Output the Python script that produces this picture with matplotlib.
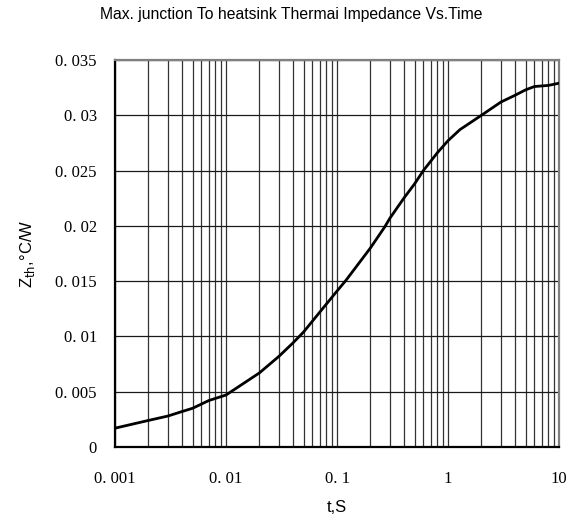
import numpy as np
import matplotlib
matplotlib.use('Agg')
import matplotlib.pyplot as plt
from matplotlib.ticker import FixedLocator, NullFormatter

# curve
t_s = [0.001, 0.002, 0.003, 0.004, 0.005, 0.007, 0.01, 0.02, 0.03, 0.04, 0.05,
       0.07, 0.1, 0.121, 0.2, 0.269, 0.3, 0.4, 0.5, 0.6, 0.8, 1.0, 1.28, 2.0,
       3.0, 4.0, 5.0, 6.0, 8.0, 10.0]
zth = [0.0017, 0.0024, 0.0028, 0.0032, 0.0035, 0.0042, 0.0047, 0.0067, 0.0082,
       0.0094, 0.0104, 0.0122, 0.0141, 0.0151, 0.0180, 0.0199, 0.0207, 0.0225,
       0.0238, 0.0250, 0.0266, 0.0277, 0.0287, 0.0300, 0.0312, 0.0318, 0.0323,
       0.0326, 0.0327, 0.0329]

xticks = [0.001, 0.01, 0.1, 1, 10]
xticklabels = ['0. 001', '0. 01', '0. 1', '1', '10']
yticks = [0, 0.005, 0.01, 0.015, 0.02, 0.025, 0.03, 0.035]
yticklabels = ['0', '0. 005', '0. 01', '0. 015', '0. 02', '0. 025', '0. 03', '0. 035']

fig = plt.figure(figsize=(5.82, 5.24), dpi=100)
ax = fig.add_axes([0.1976, 0.147, 0.7629, 0.7385])

ax.plot(t_s, zth, color='black', lw=2.0, solid_joinstyle='round', zorder=3)

ax.set_xscale('log')
ax.set_xlim(0.001, 10)
ax.set_ylim(0, 0.035)

ax.xaxis.set_major_locator(FixedLocator(xticks))
ax.set_xticklabels(xticklabels)
minors = [m * 10.0**e for e in range(-3, 1) for m in range(2, 10)]
ax.xaxis.set_minor_locator(FixedLocator(minors))
ax.xaxis.set_minor_formatter(NullFormatter())
ax.set_yticks(yticks)
ax.set_yticklabels(yticklabels)

ax.grid(True, which='both', axis='x', color='0.2', lw=0.9)
ax.grid(True, which='major', axis='y', color='0.1', lw=0.9)
ax.tick_params(which='both', length=0)
ax.tick_params(axis='x', pad=17)
ax.tick_params(axis='y', pad=13)
for lab in ax.get_xticklabels() + ax.get_yticklabels():
    lab.set_fontfamily(['Liberation Serif', 'DejaVu Serif'])
    lab.set_fontsize(12)

for side in ['left', 'bottom']:
    ax.spines[side].set_color('black')
    ax.spines[side].set_linewidth(1.6)
for side in ['top', 'right']:
    ax.spines[side].set_color('0.5')
    ax.spines[side].set_linewidth(1.6)

ax.set_xlabel('t,S', fontsize=12, fontfamily=['Liberation Sans', 'DejaVu Sans'], labelpad=10)
ax.set_ylabel(r'Z$_{\rm th}$,°C/W', fontsize=12, fontfamily=['Liberation Sans', 'DejaVu Sans'], labelpad=13)
fig.text(0.5, 0.972, 'Max. junction To heatsink Thermai Impedance Vs.Time',
         ha='center', va='center', fontsize=11.3,
         family=['Liberation Sans Narrow', 'Liberation Sans', 'DejaVu Sans'])

fig.savefig('out.png', dpi=100)
